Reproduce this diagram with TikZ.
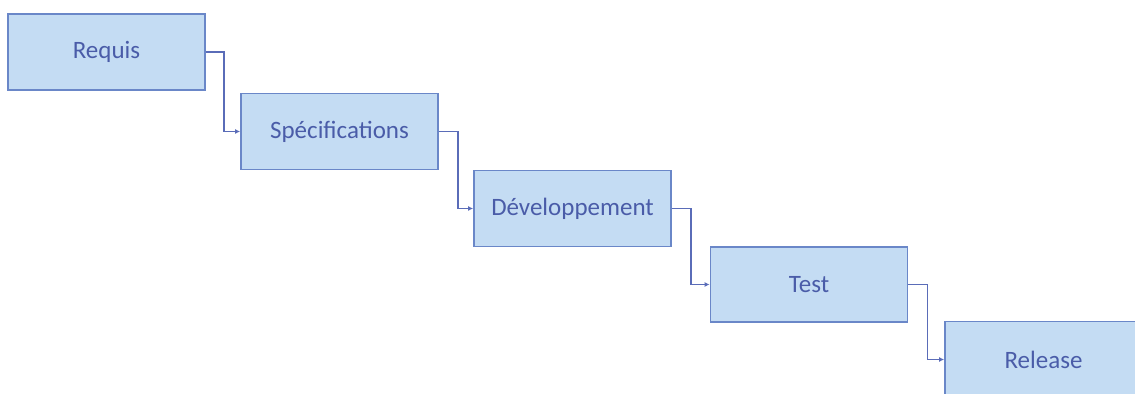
\documentclass[tikz,border=0pt]{standalone}
\usepackage{fontspec}
\setmainfont{Carlito}
\usetikzlibrary{arrows.meta}
\definecolor{boxfill}{HTML}{C4DCF3}
\definecolor{boxline}{HTML}{6A87C8}
\definecolor{txt}{HTML}{4A5CA8}
\definecolor{lnk}{HTML}{5A6CB8}
\tikzset{
  stage/.style={draw=boxline, line width=0.9pt, fill=boxfill, text=txt, inner sep=0pt,
    minimum width=98.5pt, minimum height=38pt, font=\fontsize{12.5}{14}\selectfont},
  conn/.style={draw=lnk, line width=0.6pt, -{Latex[length=2.5pt,width=2.5pt]}}
}
\begin{document}
\begin{tikzpicture}[x=0.5pt,y=-0.5pt]
\useasboundingbox (0,0) rectangle (1135,394);
\clip (0,0) rectangle (1135,394);
\node[stage] (req) at (106.5,52) {Requis};
\node[stage] (spec) at (339.5,131.5) {Spécifications};
\node[stage] (dev) at (572.5,208.5) {Développement};
\node[stage, minimum height=37.5pt] (test) at (809,284.5) {Test};
\node[stage] (rel) at (1043.5,359.5) {Release};
\draw[conn] (req.east) -- ++(18,0) |- (spec.west);
\draw[conn] (spec.east) -- ++(19,0) |- (dev.west);
\draw[conn] (dev.east) -- ++(19,0) |- (test.west);
\draw[conn] (test.east) -- ++(19,0) |- (rel.west);
\end{tikzpicture}
\end{document}
